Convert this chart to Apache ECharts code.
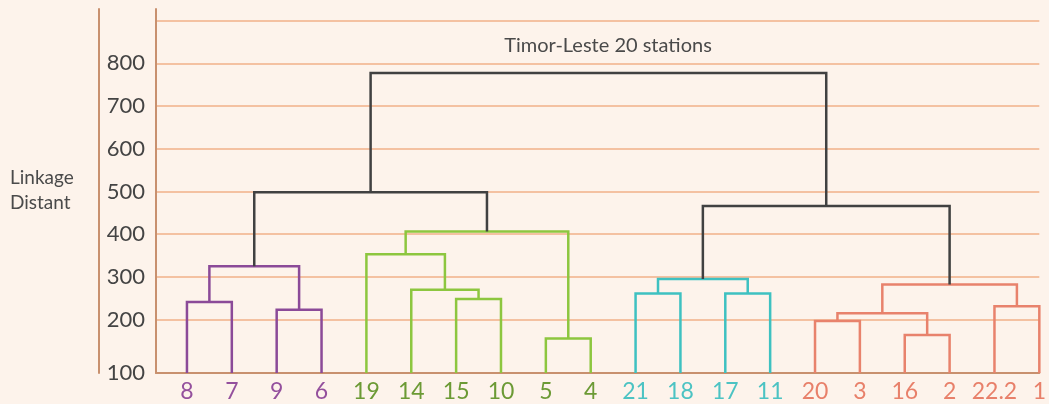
<!DOCTYPE html>
<html>
<head>
<meta charset="utf-8">
<script src="https://cdn.jsdelivr.net/npm/echarts@6/dist/echarts.min.js"></script>
<style>
html,body{margin:0;padding:0;background:#fdf3eb;}
#c{width:1049px;height:404px;}
</style>
</head>
<body>
<div id="c"></div>
<script>
// ---- data ----
const leaves = ['8','7','9','6','19','14','15','10','5','4','21','18','17','11','20','3','16','2','22.2','1'];
const leafGroup = [0,0,0,0,1,1,1,1,1,1,2,2,2,2,3,3,3,3,3,3];
// merges: [leftChild, rightChild, height, colorGroup]; child ids < 20 are leaves, >= 20 are merges
const mergeLeft   = [0, 2, 20, 6, 5, 4, 8, 25, 22, 10, 12, 29, 14, 16, 32, 18, 34, 31, 28];
const mergeRight  = [1, 3, 21, 7, 23, 24, 9, 26, 27, 11, 13, 30, 15, 17, 33, 19, 35, 36, 37];
const mergeHeight = [241, 223, 325, 248, 270, 353, 156, 406, 498, 261, 261, 295, 197, 164, 215, 231, 282, 466, 777];
const mergeGroup  = [0, 0, 0, 1, 1, 1, 1, 1, 4, 2, 2, 2, 3, 3, 3, 3, 3, 4, 4];
const yTicks = [200, 300, 400, 500, 600, 700, 800, 900];
const yLabels = [200, 300, 400, 500, 600, 700, 800];
const title = 'Timor-Leste 20 stations';
const axisName = 'Linkage\nDistant';

// ---- styles ----
const lineColors = ['#8b4a98', '#8dc63f', '#3ec1c1', '#e8826c', '#414141'];
const labelColors = ['#94509d', '#6c9a35', '#4cc3c3', '#e8806a'];
const yMin = 75;

// compute x position / height of every node
const nodeX = [], nodeH = [];
leaves.forEach((l, i) => { nodeX[i] = i; nodeH[i] = yMin; });
mergeLeft.forEach((l, k) => {
  const id = leaves.length + k;
  nodeX[id] = (nodeX[l] + nodeX[mergeRight[k]]) / 2;
  nodeH[id] = mergeHeight[k];
});
const linkData = mergeLeft.map((l, k) => {
  const r = mergeRight[k];
  return [nodeX[l], nodeH[l], nodeX[r], nodeH[r], mergeHeight[k], mergeGroup[k]];
});

const rich = {};
labelColors.forEach((c, i) => { rich['g' + i] = { color: c, fontSize: 23, fontFamily: 'Lato' }; });

const chart = echarts.init(document.getElementById('c'));
chart.setOption({
  backgroundColor: '#fdf3eb',
  animation: false,
  title: {
    text: title, left: 603, top: 31, textAlign: 'center',
    textStyle: { fontFamily: 'Lato', fontSize: 20, fontWeight: 'normal', color: '#4a4a4a' }
  },
  graphic: [{
    type: 'text', left: 10, top: 165,
    style: { text: axisName, fontFamily: 'Lato', fontSize: 19, lineHeight: 25, fill: '#4a4a4a', align: 'left' }
  }],
  grid: { left: 156, right: 7, top: 9, bottom: 31 },
  xAxis: {
    type: 'value', min: -0.69, max: 19,
    axisLine: { show: true, onZero: false, lineStyle: { color: '#c8906e', width: 2 } },
    axisTick: { show: false },
    splitLine: { show: false },
    axisLabel: {
      customValues: leaves.map((l, i) => i),
      margin: 7,
      formatter: v => '{g' + leafGroup[v] + '|' + leaves[v] + '}',
      rich: rich,
      showMinLabel: true, showMaxLabel: true,
      hideOverlap: false
    }
  },
  yAxis: [{
    type: 'value', min: yMin, max: 927,
    axisLine: { show: true, onZero: false, lineStyle: { color: '#c8906e', width: 2 } },
    axisTick: { show: false, customValues: yTicks },
    splitLine: { show: true, lineStyle: { color: '#f0b088', width: 1.5 } },
    axisLabel: {
      customValues: [yMin].concat(yLabels),
      formatter: v => (v === yMin ? '100' : String(v)),
      fontFamily: 'Lato', fontSize: 22, color: '#444', margin: 11
    }
  }, {
    type: 'value', min: yMin, max: 927, position: 'left', offset: 57,
    axisLine: { show: true, onZero: false, lineStyle: { color: '#c8906e', width: 2 } },
    axisTick: { show: false }, axisLabel: { show: false }, splitLine: { show: false }
  }],
  series: [{
    type: 'custom',
    data: linkData,
    encode: { x: [0, 2], y: [1, 3, 4] },
    clip: false,
    renderItem: (params, api) => {
      const p1 = api.coord([api.value(0), api.value(1)]);
      const p2 = api.coord([api.value(0), api.value(4)]);
      const p3 = api.coord([api.value(2), api.value(4)]);
      const p4 = api.coord([api.value(2), api.value(3)]);
      return {
        type: 'polyline',
        shape: { points: [p1, p2, p3, p4] },
        style: { stroke: lineColors[api.value(5)], lineWidth: 2.5, fill: null }
      };
    }
  }]
});
</script>
</body>
</html>
